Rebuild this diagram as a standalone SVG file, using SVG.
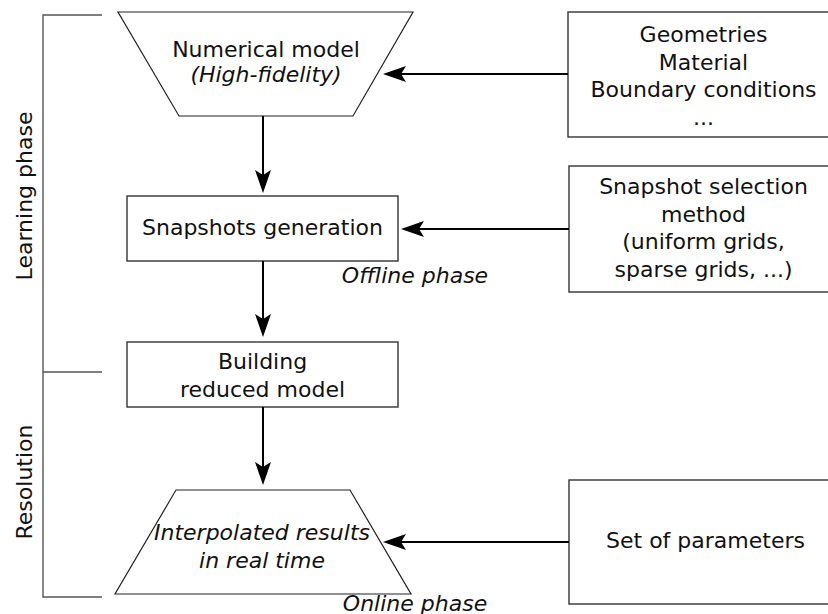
<svg xmlns="http://www.w3.org/2000/svg" width="828" height="614" viewBox="0 0 828 614">
<style>
text{font-family:"DejaVu Sans","Liberation Sans",sans-serif;font-size:22px;fill:#111;text-anchor:middle}
.it{font-style:italic}
.shape{fill:#fff;stroke:#222;stroke-width:1.2}
.box{fill:#fff;stroke:#333;stroke-width:1.4}
.br{fill:none;stroke:#555;stroke-width:1.4}
.conn{fill:none;stroke:#000;stroke-width:2;marker-end:url(#ah)}
</style>
<defs>
<marker id="ah" markerUnits="userSpaceOnUse" markerWidth="30" markerHeight="20" viewBox="-25 -10 30 20" refX="-10" refY="0" orient="auto">
<path d="M0,0 L-23,-8 L-18,0 L-23,8 Z" fill="#000"/>
</marker>
</defs>
<g id="bracket">
<path class="br" d="M102,15 H43 V597 H102 M43,372 H102"/>
<text transform="translate(32,196) rotate(-90)">Learning phase</text>
<text transform="translate(32,482) rotate(-90)">Resolution</text>
</g>
<g id="numerical-model">
<polygon class="shape" points="118,12 413,12 353,116 179,116"/>
<text x="266" y="57">Numerical model</text>
<text x="266" y="82" class="it">(High-fidelity)</text>
</g>
<g id="snapshots-generation">
<rect class="box" x="127" y="196" width="271" height="65"/>
<text x="262.5" y="235">Snapshots generation</text>
</g>
<g id="offline-label"><text x="415" y="283" class="it">Offline phase</text></g>
<g id="building-reduced-model">
<rect class="box" x="127" y="342" width="271" height="65"/>
<text x="262.5" y="369">Building</text>
<text x="262.5" y="397">reduced model</text>
</g>
<g id="interpolated-results">
<polygon class="shape" points="176,490 350,490 411,594 115,594"/>
<text x="262" y="540" class="it">Interpolated results</text>
<text x="262" y="568" class="it">in real time</text>
</g>
<g id="online-label"><text x="415" y="611" class="it">Online phase</text></g>
<g id="inputs">
<rect class="box" x="568" y="12" width="275" height="125"/>
<text x="703.5" y="42">Geometries</text>
<text x="703.5" y="70">Material</text>
<text x="703.5" y="97">Boundary conditions</text>
<text x="703.5" y="125">...</text>
</g>
<g id="snapshot-selection">
<rect class="box" x="569" y="166" width="275" height="126"/>
<text x="703.5" y="194">Snapshot selection</text>
<text x="703.5" y="222">method</text>
<text x="703.5" y="249">(uniform grids,</text>
<text x="703.5" y="277">sparse grids, ...)</text>
</g>
<g id="set-of-parameters">
<rect class="box" x="569" y="480" width="275" height="124"/>
<text x="705.5" y="548">Set of parameters</text>
</g>
<g id="connectors">
<line class="conn" x1="263" y1="116" x2="263" y2="183"/>
<line class="conn" x1="263" y1="261" x2="263" y2="327"/>
<line class="conn" x1="263" y1="407" x2="263" y2="475"/>
<line class="conn" x1="568" y1="74" x2="393" y2="74"/>
<line class="conn" x1="569" y1="229" x2="411" y2="229"/>
<line class="conn" x1="569" y1="542" x2="393" y2="542"/>
</g>
</svg>
